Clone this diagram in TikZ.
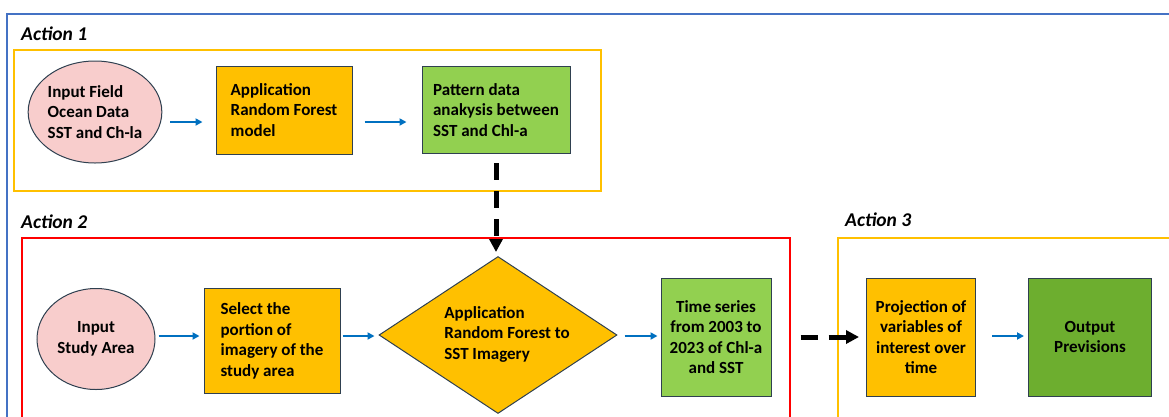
\documentclass[tikz,border=0pt]{standalone}
\usepackage{fontspec}
\setmainfont{Carlito}
\usepackage{tikz}
\usetikzlibrary{shapes.geometric,arrows.meta}
\definecolor{fillorange}{HTML}{FFC000}
\definecolor{fillgreen}{HTML}{92D050}
\definecolor{filldarkgreen}{HTML}{6DAE2F}
\definecolor{fillpink}{HTML}{F8CDCC}
\definecolor{edgegray}{HTML}{2F4050}
\definecolor{arrowblue}{HTML}{0070C0}
\definecolor{frameblue}{HTML}{4472C4}
\definecolor{framered}{HTML}{FF0000}

\begin{document}
\begin{tikzpicture}
    [every node/.style={inner sep=0pt, font=\bfseries\fontsize{17}{20.5}\selectfont},
     stepbox/.style={rectangle, draw=edgegray, line width=1pt},
     inputbox/.style={ellipse, draw=edgegray, line width=1pt, fill=fillpink},
     actiontitle/.style={anchor=west, font=\bfseries\itshape\fontsize{19.5}{22}\selectfont},
     flow/.style={line width=2.5pt, color=arrowblue, -{Triangle[length=7pt,width=7pt]}},
     jump/.style={line width=5pt, color=black, dash pattern=on 17pt off 11pt, -{Triangle[length=13pt,width=13pt]}}]
        \clip (0pt, 0pt) rectangle (1169pt, -416pt);
        % frames
        \draw [line width=1.5pt, color=frameblue] (1175pt, -14pt) -- (7pt, -14pt) -- (7pt, -425pt);
        \draw [line width=2pt, color=fillorange] (14pt, -50pt) rectangle (601pt, -191pt);
        \draw [line width=1.5pt, color=framered] (22pt, -238pt) rectangle (790pt, -430pt);
        \draw [line width=2pt, color=fillorange] (838pt, -238pt) rectangle (1180pt, -430pt);
        \node (a1) [actiontitle] at (21pt, -34pt) {Action 1};
        \node (a2) [actiontitle] at (21pt, -222pt) {Action 2};
        \node (a3) [actiontitle] at (845pt, -220pt) {Action 3};
        % action 1
        \node (1) [inputbox, minimum width=116pt, minimum height=102pt, align=left] at (95pt, -112pt) {Input Field\\Ocean Data\\SST and Ch-la};
        \node (2) [stepbox, fill=fillorange, minimum width=136pt, minimum height=88pt, align=left] at (284pt, -110pt) {Application\\Random Forest\\model};
        \node (3) [stepbox, fill=fillgreen, minimum width=148pt, minimum height=87pt, align=left] at (496pt, -110pt) {Pattern data\\anakysis between\\SST and Chl-a};
        % action 2
        \node (4) [inputbox, minimum width=118pt, minimum height=101pt, align=center] at (96pt, -339pt) {Input\\Study Area};
        \node (5) [stepbox, fill=fillorange, minimum width=136pt, minimum height=105pt, align=left] at (272pt, -341pt) {Select the\\portion of\\imagery of the\\study area};
        \node (6) [diamond, draw=edgegray, line width=1pt, fill=fillorange, minimum width=238pt, minimum height=157pt] at (498pt, -335pt) {};
        \node (6t) [align=left] at (507pt, -334pt) {Application\\Random Forest to\\SST Imagery};
        \node (7) [stepbox, fill=fillgreen, minimum width=110pt, minimum height=118pt, align=center] at (716pt, -337pt) {Time series\\from 2003 to\\2023 of Chl-a\\and SST};
        % action 3
        \node (8) [stepbox, fill=fillorange, minimum width=109pt, minimum height=118pt, align=center] at (921pt, -337pt) {Projection of\\variables of\\interest over\\time};
        \node (9) [stepbox, fill=filldarkgreen, minimum width=123pt, minimum height=118pt, align=center] at (1090pt, -337pt) {Output\\Previsions};
        \coordinate (r1) at (0pt, -122pt);
        \coordinate (r2) at (0pt, -336pt);
        \draw [flow, shorten <=8pt, shorten >=13pt] (1.east |- r1) -- (2.west |- r1);
        \draw [flow, shorten <=12pt, shorten >=15pt] (2.east |- r1) -- (3.west |- r1);
        \draw [flow, shorten <=3pt, shorten >=4pt] (4.east |- r2) -- (5.west |- r2);
        \draw [flow, shorten <=2pt, shorten >=4pt] (5.east |- r2) -- (6.west |- r2);
        \draw [flow, shorten <=7pt, shorten >=3pt] (6.east |- r2) -- (7.west |- r2);
        \draw [flow, shorten <=16pt, shorten >=4pt] (8.east |- r2) -- (9.west |- r2);
        \draw [jump, shorten <=9pt, shorten >=4pt] (3.south) -- (3.south |- 6.north);
        \draw [jump, shorten <=29pt, shorten >=7pt] (7.east) -- (8.west);
    \end{tikzpicture}
\end{document}
